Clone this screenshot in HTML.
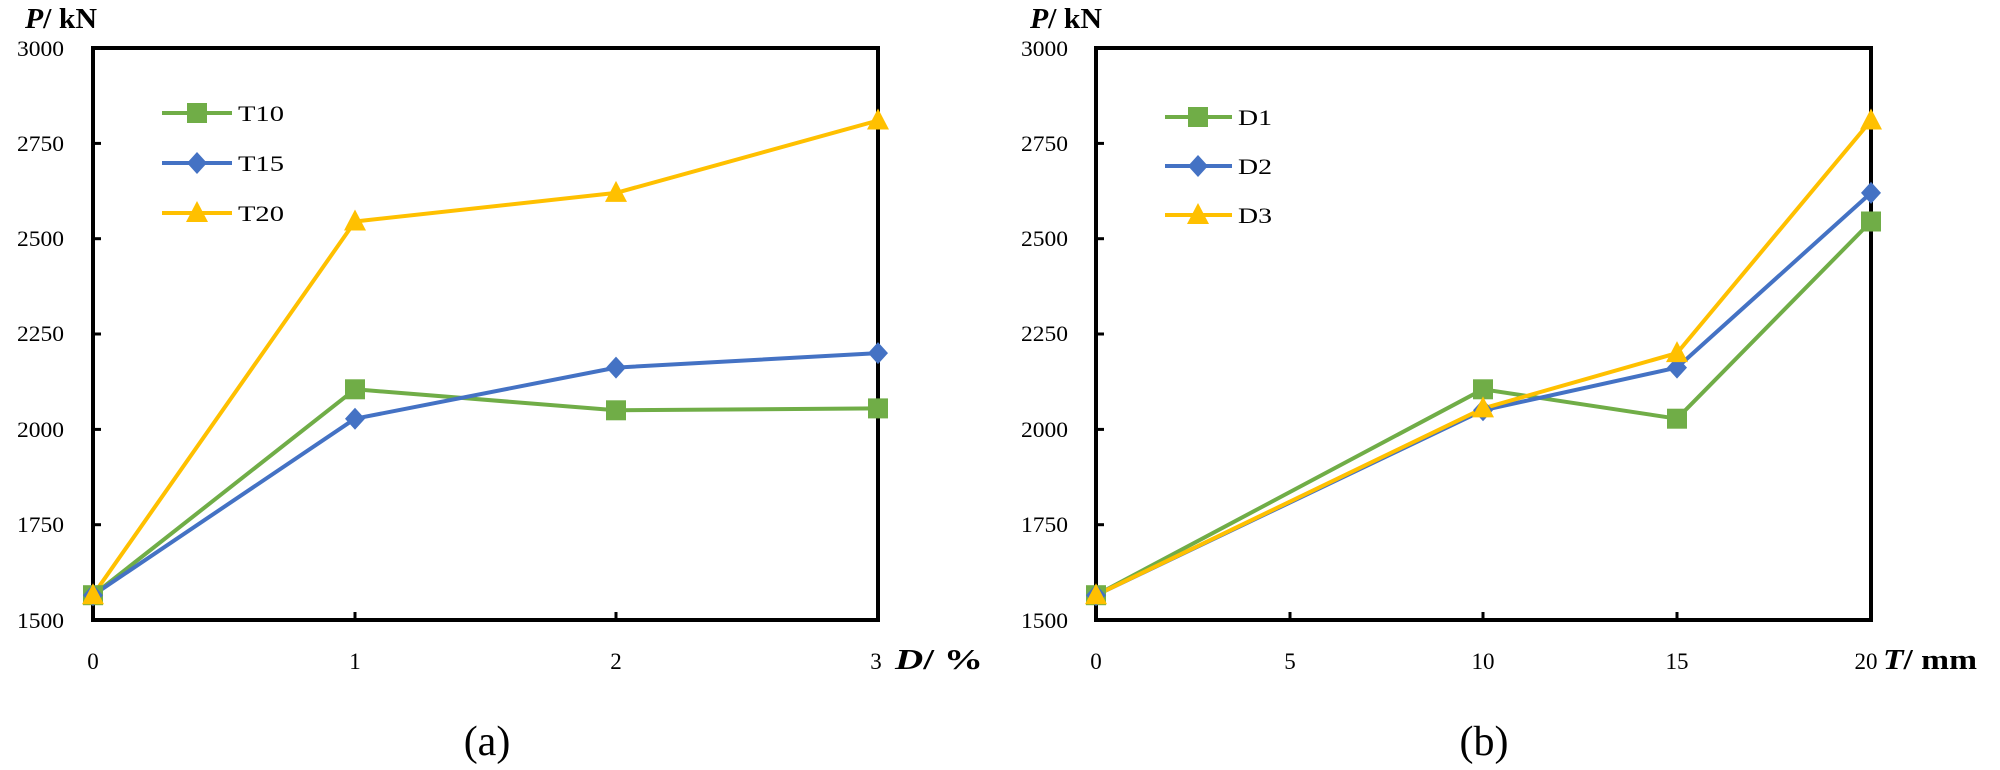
<!DOCTYPE html>
<html><head><meta charset="utf-8"><style>
html,body{margin:0;padding:0;background:#fff;}
svg{display:block;}
text{font-family:"Liberation Serif",serif;fill:#000;}
</style></head><body>
<svg width="2000" height="770" viewBox="0 0 2000 770" xmlns="http://www.w3.org/2000/svg">
<defs>
<g id="sq"><rect x="-10" y="-10" width="20" height="20"/></g>
<g id="di"><polygon points="0,-11 10,0 0,11 -10,0"/></g>
<g id="tr"><polygon points="0,-12 11,9 -11,9"/></g>
</defs>
<!-- LEFT CHART -->
<g>
<rect x="93" y="48" width="785" height="572" fill="none" stroke="#000" stroke-width="4"/>
<g stroke="#000" stroke-width="3">
<line x1="93" y1="143.4" x2="101" y2="143.4"/><line x1="93" y1="238.7" x2="101" y2="238.7"/>
<line x1="93" y1="334" x2="101" y2="334"/><line x1="93" y1="429.4" x2="101" y2="429.4"/>
<line x1="93" y1="524.7" x2="101" y2="524.7"/>
<line x1="355" y1="620" x2="355" y2="612"/><line x1="616" y1="620" x2="616" y2="612"/>
</g>
<g font-size="22" text-anchor="end">
<text x="64" y="56" textLength="47" lengthAdjust="spacingAndGlyphs">3000</text><text x="64" y="151" textLength="47" lengthAdjust="spacingAndGlyphs">2750</text><text x="64" y="246" textLength="47" lengthAdjust="spacingAndGlyphs">2500</text>
<text x="64" y="341" textLength="47" lengthAdjust="spacingAndGlyphs">2250</text><text x="64" y="437" textLength="47" lengthAdjust="spacingAndGlyphs">2000</text><text x="64" y="532" textLength="47" lengthAdjust="spacingAndGlyphs">1750</text>
<text x="64" y="628" textLength="47" lengthAdjust="spacingAndGlyphs">1500</text>
</g>
<g font-size="23" text-anchor="middle">
<text x="93" y="669">0</text><text x="355" y="669">1</text><text x="616" y="669">2</text><text x="876" y="669">3</text>
</g>
<text x="895" y="669" font-size="28" font-weight="bold" textLength="88" lengthAdjust="spacingAndGlyphs"><tspan font-style="italic">D</tspan>/ %</text>
<text x="25" y="28" font-size="28" font-weight="bold" textLength="72" lengthAdjust="spacingAndGlyphs"><tspan font-style="italic">P</tspan>/ kN</text>
<g fill="none" stroke-width="4" stroke-linejoin="round">
<polyline stroke="#70AD47" points="93,595.2 355,389.3 616,410.3 878,408.4"/>
<polyline stroke="#4472C4" points="93,595.2 355,418.7 616,367.6 878,353.1"/>
<polyline stroke="#FFC000" points="93,595.2 355,221.5 616,192.9 878,120.5"/>
</g>
<g fill="#70AD47"><use href="#sq" x="93" y="595.2"/><use href="#sq" x="355" y="389.3"/><use href="#sq" x="616" y="410.3"/><use href="#sq" x="878" y="408.4"/></g>
<g fill="#4472C4"><use href="#di" x="93" y="595.2"/><use href="#di" x="355" y="418.7"/><use href="#di" x="616" y="367.6"/><use href="#di" x="878" y="353.1"/></g>
<g fill="#FFC000"><use href="#tr" x="93" y="595.2"/><use href="#tr" x="355" y="221.5"/><use href="#tr" x="616" y="192.9"/><use href="#tr" x="878" y="120.5"/></g>
<line x1="162" y1="113" x2="232" y2="113" stroke="#70AD47" stroke-width="4"/><use href="#sq" x="197" y="113" fill="#70AD47"/>
<line x1="162" y1="163" x2="232" y2="163" stroke="#4472C4" stroke-width="4"/><use href="#di" x="197" y="163" fill="#4472C4"/>
<line x1="162" y1="213" x2="232" y2="213" stroke="#FFC000" stroke-width="4"/><use href="#tr" x="197" y="213" fill="#FFC000"/>
<g font-size="22"><text x="238" y="121" textLength="46" lengthAdjust="spacingAndGlyphs">T10</text><text x="238" y="171" textLength="46" lengthAdjust="spacingAndGlyphs">T15</text><text x="238" y="221" textLength="46" lengthAdjust="spacingAndGlyphs">T20</text></g>
<text x="487" y="755" font-size="42" text-anchor="middle">(a)</text>
</g>
<!-- RIGHT CHART -->
<g>
<rect x="1096" y="48" width="775" height="572" fill="none" stroke="#000" stroke-width="4"/>
<g stroke="#000" stroke-width="3">
<line x1="1096" y1="143.4" x2="1104" y2="143.4"/><line x1="1096" y1="238.7" x2="1104" y2="238.7"/>
<line x1="1096" y1="334" x2="1104" y2="334"/><line x1="1096" y1="429.4" x2="1104" y2="429.4"/>
<line x1="1096" y1="524.7" x2="1104" y2="524.7"/>
<line x1="1290" y1="620" x2="1290" y2="612"/><line x1="1483" y1="620" x2="1483" y2="612"/><line x1="1677" y1="620" x2="1677" y2="612"/>
</g>
<g font-size="22" text-anchor="end">
<text x="1068" y="56" textLength="47" lengthAdjust="spacingAndGlyphs">3000</text><text x="1068" y="151" textLength="47" lengthAdjust="spacingAndGlyphs">2750</text><text x="1068" y="246" textLength="47" lengthAdjust="spacingAndGlyphs">2500</text>
<text x="1068" y="341" textLength="47" lengthAdjust="spacingAndGlyphs">2250</text><text x="1068" y="437" textLength="47" lengthAdjust="spacingAndGlyphs">2000</text><text x="1068" y="532" textLength="47" lengthAdjust="spacingAndGlyphs">1750</text>
<text x="1068" y="628" textLength="47" lengthAdjust="spacingAndGlyphs">1500</text>
</g>
<g font-size="23" text-anchor="middle">
<text x="1096" y="669">0</text><text x="1290" y="669">5</text><text x="1483" y="669">10</text><text x="1677" y="669">15</text><text x="1866" y="669">20</text>
</g>
<text x="1883" y="669" font-size="28" font-weight="bold" textLength="94" lengthAdjust="spacingAndGlyphs"><tspan font-style="italic">T</tspan>/ mm</text>
<text x="1030" y="28" font-size="28" font-weight="bold" textLength="72" lengthAdjust="spacingAndGlyphs"><tspan font-style="italic">P</tspan>/ kN</text>
<g fill="none" stroke-width="4" stroke-linejoin="round">
<polyline stroke="#70AD47" points="1096,595.2 1483,389.3 1677,418.7 1871,221.5"/>
<polyline stroke="#4472C4" points="1096,595.2 1483,410.3 1677,367.6 1871,192.9"/>
<polyline stroke="#FFC000" points="1096,595.2 1483,408.4 1677,353.1 1871,120.5"/>
</g>
<g fill="#70AD47"><use href="#sq" x="1096" y="595.2"/><use href="#sq" x="1483" y="389.3"/><use href="#sq" x="1677" y="418.7"/><use href="#sq" x="1871" y="221.5"/></g>
<g fill="#4472C4"><use href="#di" x="1096" y="595.2"/><use href="#di" x="1483" y="410.3"/><use href="#di" x="1677" y="367.6"/><use href="#di" x="1871" y="192.9"/></g>
<g fill="#FFC000"><use href="#tr" x="1096" y="595.2"/><use href="#tr" x="1483" y="408.4"/><use href="#tr" x="1677" y="353.1"/><use href="#tr" x="1871" y="120.5"/></g>
<line x1="1165" y1="117" x2="1232" y2="117" stroke="#70AD47" stroke-width="4"/><use href="#sq" x="1198" y="117" fill="#70AD47"/>
<line x1="1165" y1="166" x2="1232" y2="166" stroke="#4472C4" stroke-width="4"/><use href="#di" x="1198" y="166" fill="#4472C4"/>
<line x1="1165" y1="215" x2="1232" y2="215" stroke="#FFC000" stroke-width="4"/><use href="#tr" x="1198" y="215" fill="#FFC000"/>
<g font-size="22"><text x="1238" y="125" textLength="34" lengthAdjust="spacingAndGlyphs">D1</text><text x="1238" y="174" textLength="34" lengthAdjust="spacingAndGlyphs">D2</text><text x="1238" y="223" textLength="34" lengthAdjust="spacingAndGlyphs">D3</text></g>
<text x="1484" y="755" font-size="42" text-anchor="middle">(b)</text>
</g>
</svg>
</body></html>
